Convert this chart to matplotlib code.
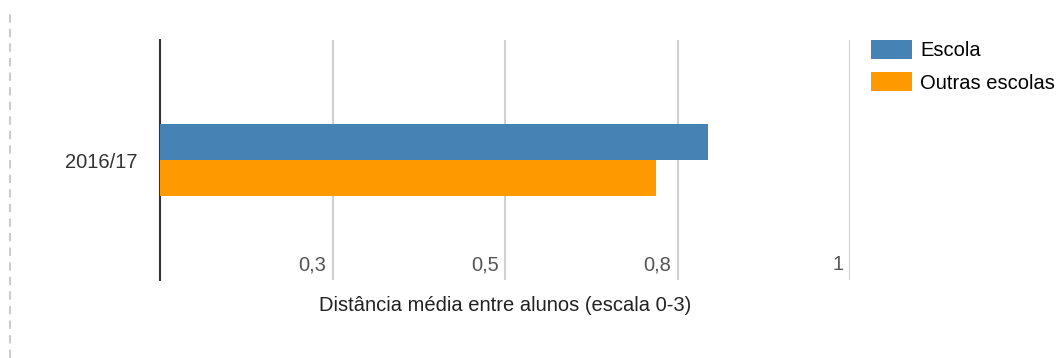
import matplotlib.pyplot as plt
from matplotlib.lines import Line2D

plt.rcParams['font.family'] = ['Liberation Sans', 'DejaVu Sans']

# values
years = ['2016/17']
escola = [0.794]
outras = [0.719]
series_names = ['Escola', 'Outras escolas']
series_colors = ['#4682b4', '#ff9900']
ticks = [0.25, 0.5, 0.75, 1.0]
tick_labels = ['0,3', '0,5', '0,8', '1']

fs = 14.5

fig = plt.figure(figsize=(10.58, 3.58), dpi=100)
ax = fig.add_axes([160 / 1058, 1 - 280 / 358, 690 / 1058, 240 / 358])

h = 0.3
pos = list(range(len(years)))
ax.barh([p + h / 2 for p in pos], escola, height=h, color=series_colors[0],
        label=series_names[0], zorder=3)
ax.barh([p - h / 2 for p in pos], outras, height=h, color=series_colors[1],
        label=series_names[1], zorder=3)

ax.set_xlim(0, 1)
ax.set_ylim(-1, 1)
ax.set_xticks(ticks)
ax.set_xticklabels([])
ax.tick_params(axis='x', length=0)
ax.grid(axis='x', color='#d0d0d0', linewidth=1.5, zorder=0)
ax.set_yticks(pos)
ax.set_yticklabels(years, fontsize=fs, color='#333333')
ax.tick_params(axis='y', length=0, pad=16)

# value labels for the x axis sit inside the plot, left of each gridline
for t, lab in zip(ticks, tick_labels):
    ax.text(t - 0.009, -0.875, lab, ha='right', va='center', fontsize=fs,
            color='#555555')

for s in ['top', 'right', 'bottom']:
    ax.spines[s].set_visible(False)
ax.spines['left'].set_color('#333333')
ax.spines['left'].set_linewidth(1.5)

ax.set_xlabel('Distância média entre alunos (escala 0-3)', fontsize=fs,
              color='#222222', labelpad=8)

ax.legend(loc='upper left', bbox_to_anchor=(871 / 1058, 1 - 40 / 358),
          bbox_transform=fig.transFigure, frameon=False, fontsize=fs,
          handlelength=2.05, handleheight=1.05, labelspacing=0.6,
          handletextpad=0.4, borderpad=0, borderaxespad=0)

# dashed separator on the left edge
fig.add_artist(Line2D([10 / 1058, 10 / 1058], [0, 1 - 12 / 358],
                      transform=fig.transFigure, color='#cccccc',
                      linewidth=1.5, linestyle=(0, (4, 3))))

fig.savefig('out.png', dpi=100)
